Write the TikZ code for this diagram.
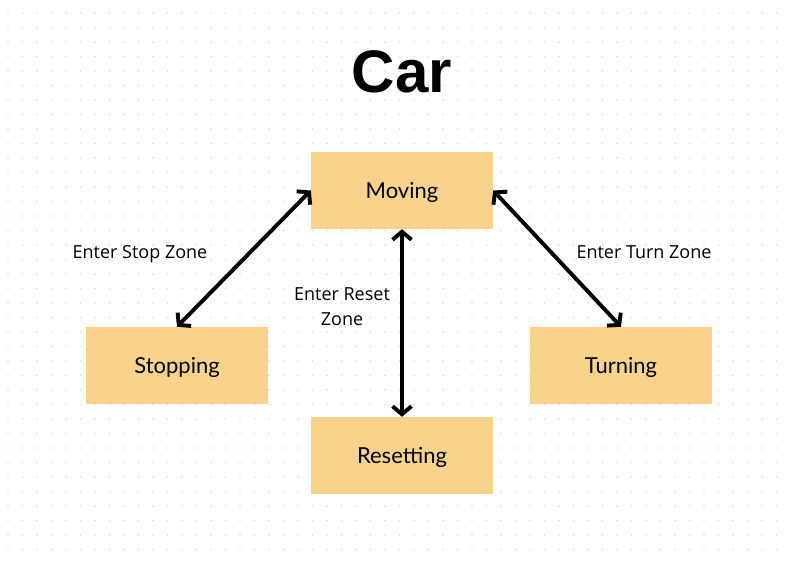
\documentclass[tikz,border=0pt]{standalone}
\usepackage{fontspec}
\usepackage{xcolor}
\usetikzlibrary{arrows.meta}
\newfontfamily\titlefont{Liberation Sans}
\newfontfamily\boxfont{Lato}
\newfontfamily\labelfont{Open Sans}
\definecolor{boxfill}{HTML}{F9D38B}
\definecolor{dotgray}{HTML}{DCDCDC}

\begin{document}
\begin{tikzpicture}[x=1pt,y=-1pt]
\tikzstyle{state} = [fill=boxfill, minimum width=182pt, minimum height=77pt, inner sep=0pt, text depth=0pt, font=\boxfont\fontsize{22}{26}\selectfont]
\tikzstyle{trans} = [draw=black, line width=3.9pt, {Straight Barb[length=8pt,width=19pt]}-{Straight Barb[length=8pt,width=19pt]}]
\tikzstyle{event} = [font=\labelfont\fontsize{18}{25}\selectfont, align=center]
%
\fill[white] (0,0) rectangle (794,562);
\useasboundingbox (0,0) rectangle (794,562);
% dotted canvas
\foreach \i in {0,...,53}{
	\foreach \j in {0,...,37}{
		\fill[dotgray] (8+14.5*\i,13+14.5*\j) circle (0.9pt);
	}
}

	\node[font=\titlefont\bfseries\fontsize{60}{62}\selectfont] (title) at (402,72) {Car};

	\node[state] (moving) at (402,190.5) {Moving};
	\node[state] (stopping) at (177,365.5) {Stopping};
	\node[state] (turning) at (621,365.5) {Turning};
	\node[state] (resetting) at (402,455.5) {Resetting};

	\draw[trans] (moving.west) -- (stopping.north);
	\draw[trans] (moving.east) -- (turning.north);
	\draw[trans] (moving.south) -- (resetting.north);

	\node[event] (stoplbl) at (140,254) {Enter Stop Zone};
	\node[event] (turnlbl) at (644,252) {Enter Turn Zone};
	\node[event] (resetlbl) at (342,307) {Enter Reset\\Zone};
\end{tikzpicture}
\end{document}
